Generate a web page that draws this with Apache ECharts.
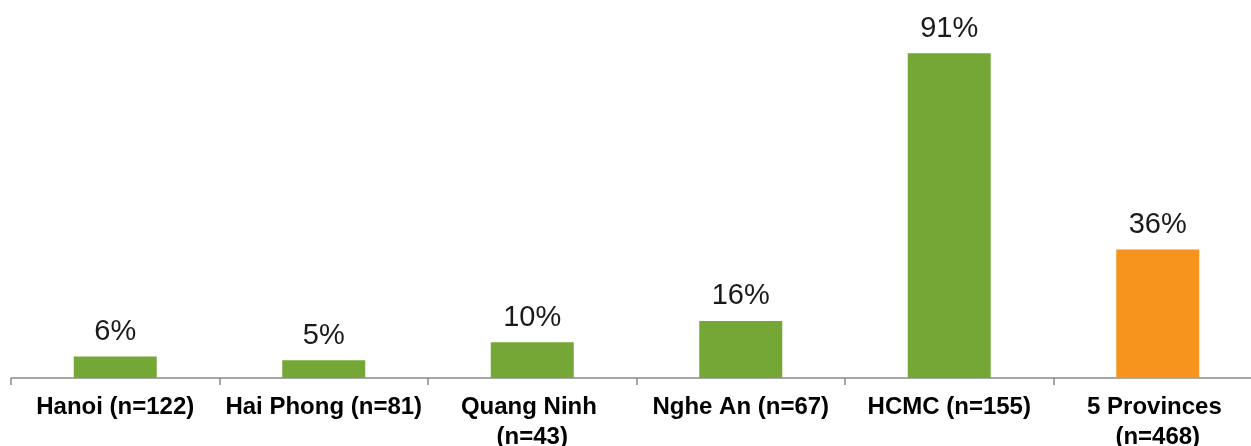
<!DOCTYPE html>
<html>
<head>
<meta charset="utf-8">
<script src="https://cdn.jsdelivr.net/npm/echarts@6/dist/echarts.min.js"></script>
<style>
  html, body { margin: 0; padding: 0; background: #fff; }
  #chart { width: 1251px; height: 446px; }
</style>
</head>
<body>
<div id="chart"></div>
<script>
// Share of respondents by province
const categories = ['Hanoi (n=122)', 'Hai Phong (n=81)', 'Quang Ninh (n=43)', 'Nghe An (n=67)', 'HCMC (n=155)', '5 Provinces (n=468)'];
const values = [6, 5, 10, 16, 91, 36];
const barColors = ['#75a736', '#75a736', '#75a736', '#75a736', '#75a736', '#f7941d'];

const chart = echarts.init(document.getElementById('chart'), null, { renderer: 'canvas' });

chart.setOption({
  animation: false,
  // the plot runs a little past the right edge, so the last category is cut off there
  grid: { left: 11, width: 1251, top: 21, bottom: 68, containLabel: false, outerBoundsMode: 'none' },
  xAxis: {
    type: 'category',
    data: categories,
    axisLine: { lineStyle: { color: '#8a8a8a', width: 1.5 } },
    axisTick: { show: true, alignWithLabel: false, length: 7, lineStyle: { color: '#8a8a8a', width: 1.5 } },
    axisLabel: {
      interval: 0,
      margin: 14,
      fontFamily: 'Liberation Sans, Arial, sans-serif',
      fontSize: 24,
      fontWeight: 'bold',
      color: '#000',
      lineHeight: 30,
      width: 204,
      overflow: 'break',
      align: 'center'
    }
  },
  yAxis: {
    type: 'value',
    min: 0,
    max: 100,
    show: false,
    splitLine: { show: false }
  },
  series: [{
    type: 'bar',
    barWidth: 83,
    data: values.map((v, i) => ({ value: v, itemStyle: { color: barColors[i] } })),
    label: {
      show: true,
      position: 'top',
      distance: 10,
      formatter: p => p.value + '%',
      fontFamily: 'Liberation Sans, Arial, sans-serif',
      fontSize: 29,
      color: '#1a1a1a'
    }
  }]
});
</script>
</body>
</html>
